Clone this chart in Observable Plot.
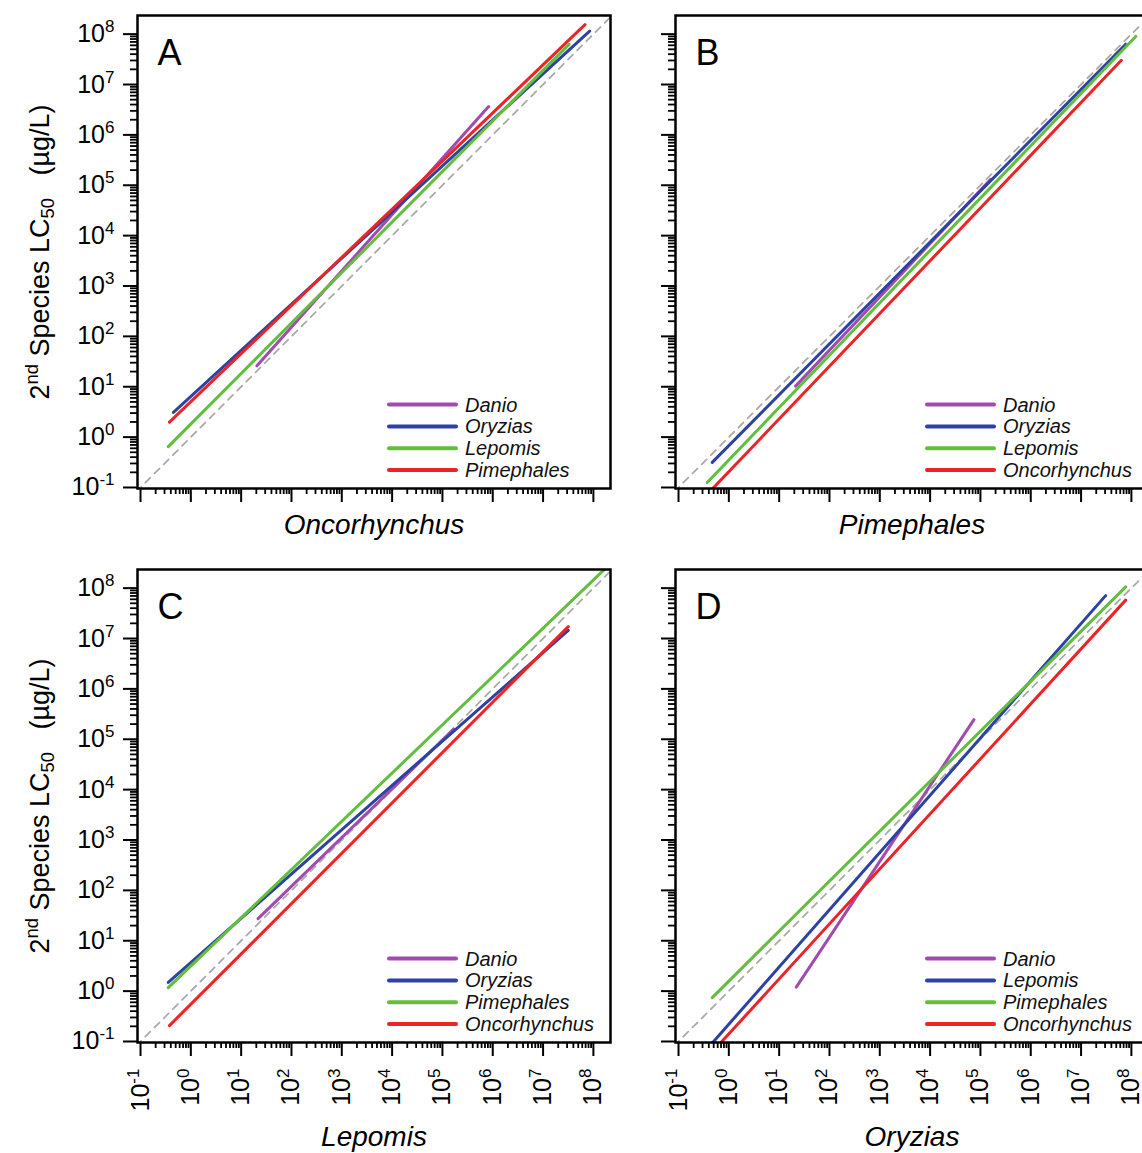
<!DOCTYPE html>
<html><head><meta charset="utf-8">
<script src="https://cdn.jsdelivr.net/npm/d3@7"></script>
<script src="https://cdn.jsdelivr.net/npm/@observablehq/plot@0.6"></script>
<style>
html,body{margin:0;padding:0;background:#fff;overflow:hidden}
#wrap{position:relative;width:1142px;height:1153px;overflow:hidden;background:#fff}
.panel{position:absolute}
.panel svg{max-width:none !important;background:transparent !important;display:block}
</style></head><body><div id="wrap"></div>
<script>
// ---------- data ----------
const panelLetters = ["A", "B", "C", "D"];
const xSpecies = ["Oncorhynchus", "Pimephales", "Lepomis", "Oryzias"];
const yTitle = "2^{nd} Species LC_{50}\u00a0\u00a0\u00a0(\u00b5g/L)";
const decadeTicks = [1e-1, 1, 1e1, 1e2, 1e3, 1e4, 1e5, 1e6, 1e7, 1e8];
const minorMultipliers = [2, 3, 4, 5, 6, 7, 8, 9];
const oneToOne = [1e-2, 1e9];

// Panel A : x = Oncorhynchus
const seriesA = ["Danio", "Oryzias", "Lepomis", "Pimephales"];
const startXA = [20.6, 0.451, 0.356, 0.376];
const startYA = [26.0, 3.09, 0.649, 1.98];
const endXA   = [8.28e5, 8.43e7, 3.29e7, 6.81e7];
const endYA   = [3.66e6, 1.15e8, 6.25e7, 1.54e8];

// Panel B : x = Pimephales
const seriesB = ["Danio", "Oryzias", "Lepomis", "Oncorhynchus"];
const startXB = [21.2, 0.468, 0.372, 0.372];
const startYB = [10.3, 0.315, 0.126, 0.0733];
const endXB   = [1.60e5, 7.71e7, 1.22e8, 6.32e7];
const endYB   = [1.31e5, 6.31e7, 9.0e7, 3.02e7];

// Panel C : x = Lepomis
const seriesC = ["Danio", "Oryzias", "Pimephales", "Oncorhynchus"];
const startXC = [21.7, 0.356, 0.356, 0.376];
const startYC = [27.4, 1.49, 1.17, 0.207];
const endXC   = [1.68e5, 3.17e7, 2.0e8, 3.17e7];
const endYC   = [1.59e5, 1.45e7, 2.82e8, 1.72e7];

// Panel D : x = Oryzias
const seriesD = ["Danio", "Lepomis", "Pimephales", "Oncorhynchus"];
const startXD = [21.9, 0.355, 0.468, 0.355];
const startYD = [1.2, 0.068, 0.743, 0.0457];
const endXD   = [7.43e4, 3.08e7, 7.71e7, 7.71e7];
const endYD   = [2.45e5, 7.1e7, 1.06e8, 5.78e7];

// ---------- styles ----------
const palette = ["#A24BAE", "#2D42A2", "#62BE3E", "#EC2426"];
const FONT = "'Liberation Sans', Arial, Helvetica, sans-serif";
const NS = "http://www.w3.org/2000/svg";

const minorTicks = decadeTicks.slice(0, -1).flatMap(d => minorMultipliers.map(m => m * d));
const fmt = d => `10^{${Math.round(Math.log10(d))}}`;
const blank = () => "";

const panelData = [
  {names: seriesA, sx: startXA, sy: startYA, ex: endXA, ey: endYA},
  {names: seriesB, sx: startXB, sy: startYB, ex: endXB, ey: endYB},
  {names: seriesC, sx: startXC, sy: startYC, ex: endXC, ey: endYC},
  {names: seriesD, sx: startXD, sy: startYD, ex: endXD, ey: endYD}
];

const layout = [
  {left: 0,   top: 0,   width: 620, height: 555, mt: 15, mb: 67,  ml: 137, mr: 10, showX: false, showY: true,  titleDy: 45},
  {left: 620, top: 0,   width: 540, height: 555, mt: 15, mb: 67,  ml: 55,  mr: 12, showX: false, showY: false, titleDy: 45},
  {left: 0,   top: 555, width: 620, height: 598, mt: 14, mb: 111, ml: 137, mr: 10, showX: true,  showY: true,  titleDy: 103},
  {left: 620, top: 555, width: 540, height: 598, mt: 14, mb: 111, ml: 55,  mr: 12, showX: true,  showY: false, titleDy: 103}
];

function richify(svg) {
  svg.querySelectorAll("text").forEach(t => {
    const s = t.textContent;
    if (!/[\^_]\{/.test(s)) return;
    const base = parseFloat(getComputedStyle(t).fontSize);
    const parts = s.split(/([\^_]\{[^}]*\})/).filter(p => p !== "");
    while (t.firstChild) t.removeChild(t.firstChild);
    let off = 0;
    for (const p of parts) {
      const ts = document.createElementNS(NS, "tspan");
      const m = p.match(/^([\^_])\{([^}]*)\}$/);
      let target = 0, txt = p;
      if (m) {
        target = m[1] === "^" ? -0.4 * base : 0.2 * base;
        txt = m[2];
        ts.setAttribute("font-size", (0.68 * base).toFixed(2));
      }
      if (target - off) ts.setAttribute("dy", (target - off).toFixed(2));
      off = target;
      ts.textContent = txt;
      t.appendChild(ts);
    }
  });
}

const wrap = document.getElementById("wrap");

panelData.forEach((pd, p) => {
  const L = layout[p];
  const rows = pd.names.flatMap((n, i) => [
    {x: pd.sx[i], y: pd.sy[i], s: n, c: palette[i]},
    {x: pd.ex[i], y: pd.ey[i], s: n, c: palette[i]}
  ]);
  const diag = oneToOne.map(v => ({x: v, y: v}));
  const marks = [
    Plot.line(diag, {x: "x", y: "y", stroke: "#aaaaaa", strokeWidth: 1.8, strokeDasharray: "7,6", clip: true}),
    Plot.line(rows, {x: "x", y: "y", z: "s", stroke: "c", strokeWidth: 3, clip: true}),
    Plot.frame({stroke: "#000", strokeWidth: 2.5}),
    Plot.axisX({ticks: decadeTicks, tickSize: 14, strokeWidth: 2, label: null,
      tickFormat: L.showX ? fmt : blank, tickRotate: L.showX ? -90 : 0, tickPadding: 12, fontSize: 25}),
    Plot.axisX({ticks: minorTicks, tickSize: 6, strokeWidth: 1.8, label: null, tickFormat: blank}),
    Plot.axisY({ticks: decadeTicks, tickSize: 14, strokeWidth: 2, label: null,
      tickFormat: L.showY ? fmt : blank, tickPadding: 9, fontSize: 25}),
    Plot.axisY({ticks: minorTicks, tickSize: 7, strokeWidth: 1.8, label: null, tickFormat: blank}),
    Plot.text([panelLetters[p]], {frameAnchor: "top-left", dx: 20, dy: 49, fontSize: 36, lineAnchor: "bottom", textAnchor: "start"}),
    Plot.text([xSpecies[p]], {frameAnchor: "bottom", dy: L.titleDy, fontSize: 28, fontStyle: "italic", lineAnchor: "bottom"})
  ];
  if (L.showY) {
    marks.push(Plot.text([yTitle], {frameAnchor: "left", dx: -89, rotate: -90, fontSize: 27, lineAnchor: "bottom", textAnchor: "middle"}));
  }
  const svg = Plot.plot({
    width: L.width, height: L.height,
    marginTop: L.mt, marginBottom: L.mb, marginLeft: L.ml, marginRight: L.mr,
    style: {fontFamily: FONT, fontSize: "21px", background: "transparent", color: "#000"},
    x: {type: "log", domain: [10 ** -1.06, 10 ** 8.34], label: null},
    y: {type: "log", domain: [10 ** -1.02, 10 ** 8.37], label: null},
    marks
  });
  // legend (inside the frame, lower right)
  const g = d3.select(svg).append("g").attr("font-family", FONT).attr("font-size", 20)
    .attr("font-style", "italic").attr("text-anchor", "start");
  pd.names.forEach((n, i) => {
    const yy = L.mt + 389.6 + i * 21.8;
    g.append("line").attr("x1", L.ml + 252).attr("x2", L.ml + 319).attr("y1", yy).attr("y2", yy)
      .attr("stroke", palette[i]).attr("stroke-width", 4).attr("stroke-linecap", "round");
    g.append("text").attr("x", L.ml + 328).attr("y", yy).attr("dy", "0.35em")
      .attr("text-anchor", "start").attr("fill", "#111").text(n);
  });
  const div = document.createElement("div");
  div.className = "panel";
  div.style.left = L.left + "px";
  div.style.top = L.top + "px";
  div.appendChild(svg);
  wrap.appendChild(div);
  richify(svg);
});
</script></body></html>
